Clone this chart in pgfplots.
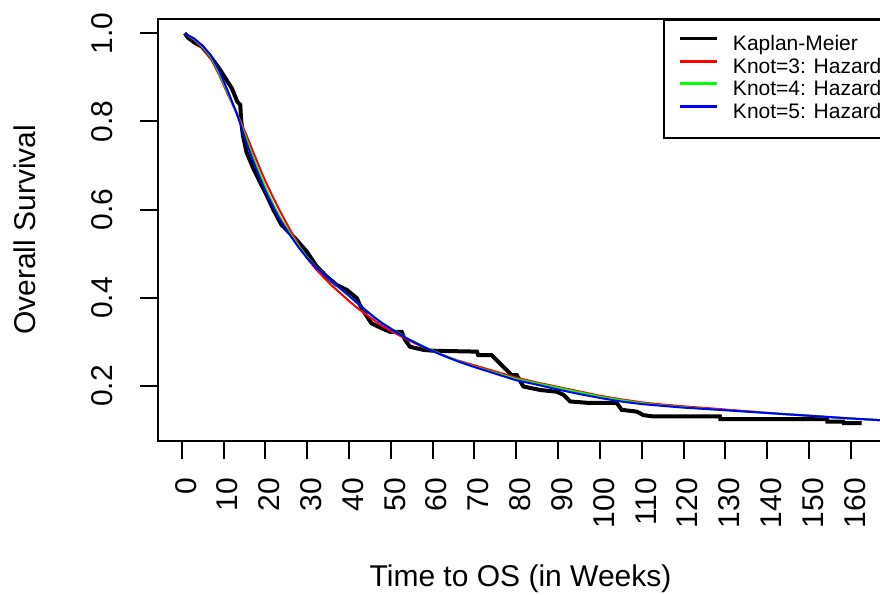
\documentclass[border=0pt]{standalone}
\usepackage{fontspec}
\setmainfont{Liberation Sans}
\usepackage{pgfplots}
\pgfplotsset{compat=1.18}
\definecolor{rgreen}{RGB}{0,255,0}
\begin{document}
\begin{tikzpicture}
% the R plot region runs a little past the right edge of the picture
\path[use as bounding box] (-79pt,-77.15pt) rectangle (361pt,220.35pt);
\clip (-79pt,-77.15pt) rectangle (361pt,220.35pt);
\begin{axis}[
  scale only axis, width=362.5pt, height=210.85pt,
  xmin=-5.67, xmax=167.7, ymin=0.076, ymax=1.0324,
  axis line style={line width=1pt},
  every tick/.style={black, line width=1pt},
  tick align=outside, major tick length=9pt, tick pos=left,
  xtick={0,10,...,160},
  ytick={0.2,0.4,0.6,0.8,1.0}, yticklabels={0.2,0.4,0.6,0.8,1.0},
  /pgf/number format/assume math mode=true,
  tick label style={font=\fontsize{15}{18}\selectfont},
  xticklabel style={xshift=2pt, rotate=90, anchor=east, inner sep=0pt},
  yticklabel style={rotate=90, anchor=south, inner sep=0pt},
  xticklabel shift=9.5pt, yticklabel shift=13.5pt,
  label style={font=\fontsize{15}{18}\selectfont},
  xlabel={Time to OS (in Weeks)}, ylabel={Overall Survival},
  xlabel style={at={(axis description cs:0.5,-0.327)}, anchor=center},
  ylabel style={at={(axis description cs:-0.1834,0.5)}, anchor=center},
  legend style={at={(rel axis cs:0.696,1)}, anchor=north west, draw=black,
    line width=1pt, inner xsep=7.65pt, inner ysep=6.9pt,
    font=\fontsize{10.5}{12}\selectfont,
    nodes={text height=7.6pt, text depth=2pt, inner sep=0.85pt},
    row sep=0pt, column sep=6.3pt},
  legend cell align=left,
  legend image code/.code={\draw[#1, line width=1.6pt] (0pt,3.3pt) -- (18.3pt,3.3pt);},
]
% Kaplan-Meier estimate
\addplot[black, line width=2pt] coordinates {
(0.75,1.0) (1.5,0.99) (3.2,0.978) (4.8,0.97) (7.2,0.943) (9.2,0.917) (12,0.875)
(13.3,0.845) (14.0,0.838) (14.2,0.805) (14.6,0.77) (15.5,0.73) (17.1,0.694)
(18.7,0.663) (20.3,0.633) (21.9,0.6) (23.9,0.565) (26.7,0.539) (27.5,0.531)
(29.9,0.505) (32.3,0.471) (34.7,0.448) (37.1,0.429) (39.5,0.418) (41.9,0.399)
(42.6,0.384) (43.8,0.365) (45.4,0.342) (47.8,0.331) (49.8,0.323) (52.6,0.323)
(53.4,0.305) (54.6,0.289) (57.8,0.282) (60.2,0.28) (70.6,0.278) (70.9,0.27)
(74.1,0.27) (78.9,0.225) (80.1,0.225) (81.7,0.199) (85.7,0.191) (89.7,0.187)
(91.3,0.18) (92.9,0.165) (96.9,0.162) (104.0,0.162) (105.2,0.146) (108.8,0.142)
(110.4,0.134) (112.8,0.131) (128.7,0.131) (128.8,0.125) (154.3,0.125)
(154.4,0.119) (158.2,0.119) (158.3,0.116) (162.6,0.116)
};
\addlegendentry{Kaplan-Meier}
% knots = 3
\addplot[red, line width=1pt] coordinates {
(0.75,1.0) (3,0.985) (5,0.967) (7,0.942) (9,0.905) (11,0.862) (13,0.822)
(14,0.802) (15,0.78) (16,0.757) (17,0.733) (18,0.71) (19,0.687) (20,0.665)
(21,0.645) (22,0.625) (23,0.606) (24,0.588) (26,0.553) (28,0.52) (30,0.49)
(32,0.466) (34,0.446) (36,0.427) (38,0.41) (40,0.393) (42,0.377) (44,0.363)
(46,0.349) (48,0.336) (50,0.325) (54,0.305) (58,0.287) (62,0.272) (66,0.258)
(70,0.247) (75,0.233) (80,0.219) (85,0.208) (90,0.198) (95,0.188) (100,0.178)
(105,0.17) (110,0.163) (115,0.158) (120,0.154) (127,0.149) (135,0.143)
(143,0.137) (151,0.132) (159,0.127) (168,0.122)
};
\addlegendentry{Knot=3: Hazard}
% knots = 4
\addplot[rgreen, line width=1pt] coordinates {
(0.75,1.0) (3,0.987) (5,0.97) (7,0.947) (9,0.91) (11,0.866) (13,0.822)
(14,0.798) (15,0.772) (16,0.746) (17,0.72) (18,0.696) (19,0.673) (20,0.651)
(21,0.63) (22,0.61) (23,0.592) (24,0.575) (26,0.545) (28,0.517) (30,0.492)
(32,0.471) (34,0.454) (36,0.437) (38,0.42) (40,0.404) (42,0.388) (44,0.372)
(46,0.357) (48,0.343) (50,0.331) (54,0.308) (58,0.289) (62,0.272) (66,0.257)
(70,0.244) (75,0.23) (80,0.216) (85,0.206) (90,0.196) (95,0.186) (100,0.176)
(105,0.168) (110,0.161) (115,0.156) (120,0.152) (127,0.147) (135,0.142)
(143,0.137) (151,0.132) (159,0.127) (168,0.122)
};
\addlegendentry{Knot=4: Hazard}
% knots = 5
\addplot[blue, line width=1pt] coordinates {
(0.75,1.0) (3,0.988) (5,0.972) (7,0.95) (9,0.915) (11,0.87) (13,0.822)
(14,0.795) (15,0.765) (16,0.738) (17,0.712) (18,0.688) (19,0.665) (20,0.643)
(21,0.623) (22,0.604) (23,0.586) (24,0.57) (26,0.541) (28,0.514) (30,0.49)
(32,0.47) (34,0.454) (36,0.438) (38,0.421) (40,0.405) (42,0.388) (44,0.372)
(46,0.356) (48,0.342) (50,0.33) (54,0.307) (58,0.288) (62,0.271) (66,0.256)
(70,0.243) (75,0.228) (80,0.213) (85,0.203) (90,0.192) (95,0.182) (100,0.173)
(105,0.165) (110,0.159) (115,0.155) (120,0.151) (127,0.147) (135,0.142)
(143,0.137) (151,0.132) (159,0.127) (168,0.122)
};
\addlegendentry{Knot=5: Hazard}
\end{axis}
\end{tikzpicture}
\end{document}
